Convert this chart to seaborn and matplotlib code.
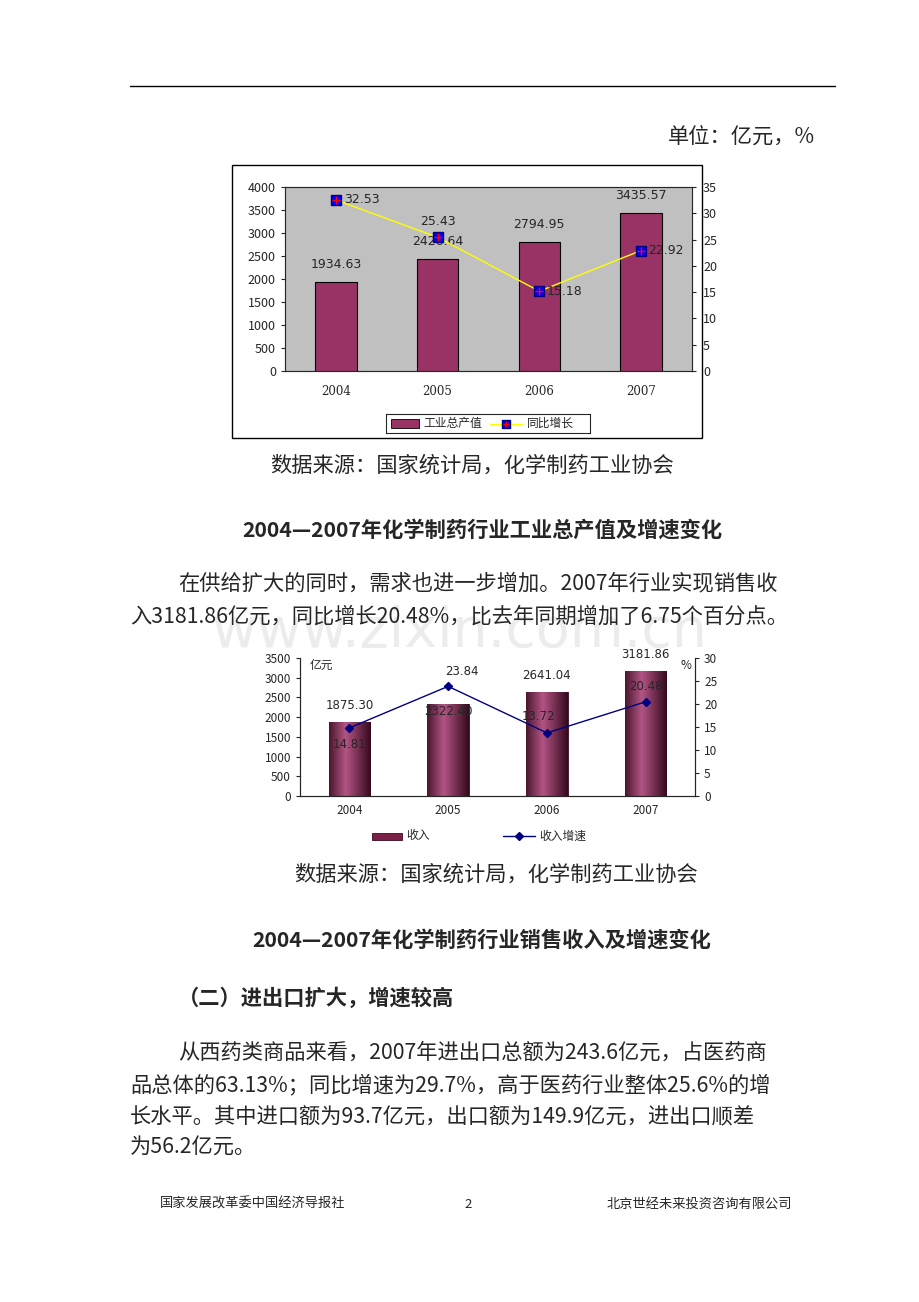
import numpy as np
import matplotlib.pyplot as plt
import seaborn as sns
from matplotlib.patches import Rectangle
from matplotlib.lines import Line2D

sns.set_style("white")
plt.rcParams['font.family'] = ['Noto Sans CJK SC', 'DejaVu Sans']

# =========================
# DATA
# =========================

years = ["2004", "2005", "2006", "2007"]

output_value = [1934.63, 2426.64, 2794.95, 3435.57]
output_growth = [32.53, 25.43, 15.18, 22.92]

sales_value = [1875.30, 2322.40, 2641.04, 3181.86]
sales_growth = [14.81, 23.84, 13.72, 20.48]

W, H = 920, 1302
fig = plt.figure(figsize=(9.2, 13.02), dpi=100)


def fx(x):
    return x / W


def fy(y):
    return 1 - y / H


def txt(x, y, s, size=15.3, ha="left", **kw):
    fig.text(fx(x), fy(y), s, fontsize=size, ha=ha, va="center", **kw)


# =========================
# PAGE TEXT
# =========================

fig.add_artist(Line2D([fx(130), fx(835)], [fy(86), fy(86)], color="black", lw=1))
txt(815, 137, "单位：亿元，%", ha="right")

fig.text(fx(460), fy(632), "www.zixin.com.cn", fontsize=40, ha="center", va="center",
         color="#ececec", zorder=0, family="DejaVu Sans")

txt(472, 466, "数据来源：国家统计局，化学制药工业协会", ha="center")
txt(482, 530, "2004—2007年化学制药行业工业总产值及增速变化", ha="center", fontweight="bold")
txt(178, 583, "在供给扩大的同时，需求也进一步增加。2007年行业实现销售收")
txt(130, 617, "入3181.86亿元，同比增长20.48%，比去年同期增加了6.75个百分点。")

txt(496, 875, "数据来源：国家统计局，化学制药工业协会", ha="center")
txt(482, 940, "2004—2007年化学制药行业销售收入及增速变化", ha="center", fontweight="bold")
txt(178, 998, "（二）进出口扩大，增速较高", fontweight="bold")
txt(178, 1053, "从西药类商品来看，2007年进出口总额为243.6亿元，占医药商")
txt(130, 1085, "品总体的63.13%；同比增速为29.7%，高于医药行业整体25.6%的增")
txt(130, 1117, "长水平。其中进口额为93.7亿元，出口额为149.9亿元，进出口顺差")
txt(130, 1148, "为56.2亿元。")

txt(160, 1204, "国家发展改革委中国经济导报社", size=9.5)
txt(468, 1204, "2", size=9.5, ha="center")
txt(792, 1204, "北京世经未来投资咨询有限公司", size=9.5, ha="right")

# =========================
# CHART 1
# =========================

fig.add_artist(Rectangle((fx(232), fy(438)), fx(702) - fx(232), fy(165) - fy(438),
                         transform=fig.transFigure, fill=False, ec="black", lw=1))

ax1 = fig.add_axes([fx(285), fy(371), fx(692) - fx(285), fy(187) - fy(371)])
ax1.set_facecolor("#c0c0c0")
sns.barplot(x=years, y=output_value, ax=ax1, color="#993366", width=0.41,
            saturation=1, edgecolor="black", linewidth=0.8)
ax1.set_ylim(0, 4000)
ax1.set_yticks(range(0, 4001, 500))
for s in ax1.spines.values():
    s.set_color("#808080")
ax1.tick_params(axis="y", labelsize=9, length=3, left=True)
ax1.tick_params(axis="x", labelsize=8.5, length=0, pad=10)
for t in ax1.get_xticklabels():
    t.set_family("DejaVu Serif")
for i, v in enumerate(output_value):
    ax1.annotate(f"{v:.2f}", (i, v), xytext=(0, 8), textcoords="offset points",
                 ha="center", va="bottom", fontsize=9, family="DejaVu Sans")

ax1b = ax1.twinx()
ax1b.plot(range(4), output_growth, color="#ffff00", lw=1, marker="s", ms=7,
          mfc="#0000ff", mec="#000080", zorder=3)
ax1b.plot(range(4), output_growth, ls="none", marker="+", ms=6, mec="#ff0000", zorder=4)
ax1b.set_ylim(0, 35)
ax1b.set_yticks(range(0, 36, 5))
ax1b.tick_params(axis="y", labelsize=9, length=3, right=True, pad=5)
ax1b.set_xlim(-0.5, 3.5)
offs1 = [(6, 0, "left", "center"), (0, 7, "center", "bottom"),
         (5, 0, "left", "center"), (5, 0, "left", "center")]
for i, v in enumerate(output_growth):
    dx, dy, ha, va = offs1[i]
    ax1b.annotate(f"{v:.2f}", (i, v), xytext=(dx, dy), textcoords="offset points",
                  ha=ha, va=va, fontsize=9, family="DejaVu Sans")

leg1 = fig.add_axes([fx(386), fy(433), fx(590) - fx(386), fy(414) - fy(433)])
leg1.set_xlim(0, 204)
leg1.set_ylim(0, 19)
leg1.set_xticks([])
leg1.set_yticks([])
for s in leg1.spines.values():
    s.set_linewidth(0.8)
leg1.add_patch(Rectangle((5, 5), 28, 9, fc="#993366", ec="black", lw=0.6))
leg1.text(37, 9.5, "工业总产值", fontsize=8.5, va="center")
leg1.plot([104, 136], [9.5, 9.5], color="#ffff00", lw=1)
leg1.plot([120], [9.5], marker="s", ms=6, mfc="#0000ff", mec="#000080")
leg1.plot([120], [9.5], marker="+", ms=5, mec="#ff0000")
leg1.text(141, 9.5, "同比增长", fontsize=8.5, va="center")

# =========================
# CHART 2
# =========================

ax2 = fig.add_axes([fx(300), fy(796), fx(695) - fx(300), fy(658) - fy(796)])
sns.barplot(x=years, y=sales_value, ax=ax2, color="#7a1f45", width=0.42,
            saturation=1, edgecolor="#3a0a20", linewidth=0.6)
grad = np.concatenate([np.linspace(0.2, 0.95, 40), np.linspace(0.95, 0.05, 60)])[None, :]
cmap = sns.blend_palette(["#2e0618", "#b85888"], as_cmap=True)
for p in ax2.patches:
    x0, w, h = p.get_x(), p.get_width(), p.get_height()
    im = ax2.imshow(grad, extent=[x0, x0 + w, 0, h], aspect="auto", cmap=cmap,
                    vmin=0, vmax=1, zorder=p.get_zorder() + 0.1)
    im.set_clip_path(p)
ax2.set_xlim(-0.5, 3.5)
ax2.set_ylim(0, 3500)
ax2.set_yticks(range(0, 3501, 500))
sns.despine(ax=ax2, top=True, right=False)
ax2.tick_params(axis="y", labelsize=8.5, length=3, left=True)
ax2.tick_params(axis="x", labelsize=8.5, length=0, pad=6)
ax2.text(-0.4, 3480, "亿元", fontsize=8.5, va="top")
for i, v in enumerate(sales_value):
    ax2.annotate(f"{v:.2f}", (i, v), xytext=(0, 7 if i != 1 else -5),
                 textcoords="offset points", ha="center",
                 va="bottom" if i != 1 else "center", fontsize=8.5, family="DejaVu Sans")

ax2b = ax2.twinx()
ax2b.plot(range(4), sales_growth, color="#000080", lw=1, marker="D", ms=4.5,
          mfc="#000080", mec="#000080")
ax2b.set_ylim(0, 30)
ax2b.set_yticks(range(0, 31, 5))
ax2b.tick_params(axis="y", labelsize=8.5, length=3, right=True)
ax2b.spines["top"].set_visible(False)
ax2b.text(3.35, 29.8, "%", fontsize=8.5, va="top")
offs2 = [(0, -7, "center", "top"), (10, 6, "center", "bottom"),
         (-6, 7, "center", "bottom"), (0, 6, "center", "bottom")]
for i, v in enumerate(sales_growth):
    dx, dy, ha, va = offs2[i]
    ax2b.annotate(f"{v:.2f}", (i, v), xytext=(dx, dy), textcoords="offset points",
                  ha=ha, va=va, fontsize=8.5, family="DejaVu Sans")

fig.add_artist(Rectangle((fx(372), fy(840)), fx(30), fy(833) - fy(840),
                         transform=fig.transFigure, fc="#7a1f45", ec="#3a0a20", lw=0.6))
txt(406, 836, "收入", size=8.5)
fig.add_artist(Line2D([fx(503), fx(535)], [fy(836), fy(836)], color="#000080", lw=1))
fig.add_artist(Line2D([fx(519)], [fy(836)], marker="D", ms=4.5, color="#000080"))
txt(539, 836, "收入增速", size=8.5)

plt.savefig("out.png", dpi=100)
